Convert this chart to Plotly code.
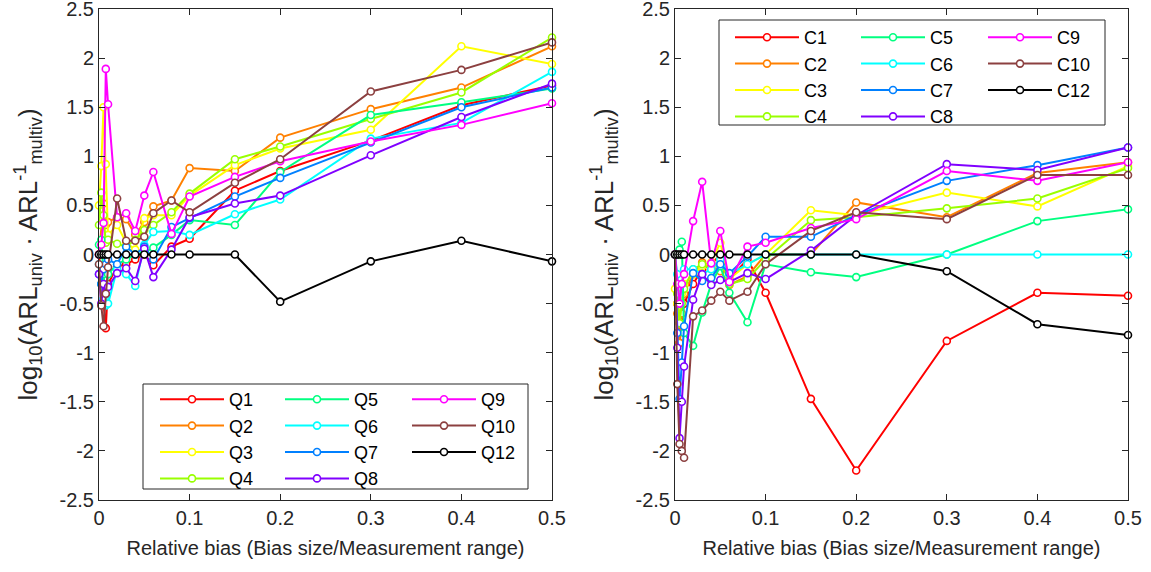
import plotly.graph_objects as go

W, H = 1151, 572
FONT = "Liberation Sans, Arial, Helvetica, sans-serif"
DARK = "#262626"

# ---------------- data ----------------
x_bias = [0, 0.0025, 0.005, 0.0075, 0.01, 0.02, 0.03, 0.04, 0.05, 0.06,
          0.08, 0.1, 0.15, 0.2, 0.3, 0.4, 0.5]

q_names = ["Q1", "Q2", "Q3", "Q4", "Q5", "Q6", "Q7", "Q8", "Q9", "Q10", "Q12"]
q1 = [0, -0.3, -0.5, -0.75, -0.3, -0.12, -0.1, -0.05, 0.0, -0.11, 0.08, 0.16, 0.65, 0.85, 1.16, 1.52, 1.72]
q2 = [0, 0.3, 0.52, 0.3, 0.33, 0.38, 0.36, 0.2, 0.33, 0.49, 0.55, 0.88, 0.85, 1.19, 1.48, 1.70, 2.12]
q3 = [0.5, 0.9, 1.5, 0.92, 0.2, 0.3, 0.12, 0.05, 0.37, 0.40, 0.40, 0.60, 0.91, 1.08, 1.27, 2.12, 1.94]
q4 = [0.3, 0.63, 0.4, 0.12, 0.15, 0.11, 0.08, 0.15, 0.25, 0.3, 0.43, 0.62, 0.97, 1.10, 1.38, 1.65, 2.21]
q5 = [0.1, 0.15, -0.2, -0.45, -0.2, -0.1, -0.05, 0.0, 0.02, 0.07, 0.2, 0.35, 0.30, 0.84, 1.42, 1.55, 1.69]
q6 = [-0.1, -0.3, -0.45, -0.52, -0.5, -0.15, -0.2, -0.32, 0.1, 0.23, 0.24, 0.20, 0.41, 0.56, 1.18, 1.34, 1.86]
q7 = [-0.2, -0.3, -0.15, -0.1, -0.05, -0.1, 0.08, 0.0, 0.08, -0.05, 0.28, 0.37, 0.59, 0.78, 1.14, 1.50, 1.70]
q8 = [-0.2, -0.5, -0.3, -0.4, -0.33, -0.19, -0.14, -0.27, 0.06, -0.23, 0.05, 0.38, 0.52, 0.60, 1.01, 1.40, 1.74]
q9 = [0, 0.1, 0.32, 1.89, 1.53, 0.38, 0.42, 0.24, 0.60, 0.84, 0.21, 0.59, 0.79, 0.95, 1.15, 1.32, 1.54]
q10 = [-0.1, -0.52, -0.73, -0.4, -0.13, 0.57, 0.14, 0.14, 0.18, 0.42, 0.55, 0.43, 0.73, 0.97, 1.66, 1.88, 2.16]
q12 = [0, 0, 0, 0, 0, 0, 0, 0, 0, 0, 0, 0, 0, -0.48, -0.07, 0.14, -0.07]

c_names = ["C1", "C2", "C3", "C4", "C5", "C6", "C7", "C8", "C9", "C10", "C12"]
c1 = [0, -0.5, -0.9, -0.7, -0.5, -0.3, -0.15, -0.1, 0.0, -0.25, -0.05, -0.39, -1.47, -2.2, -0.88, -0.39, -0.42]
c2 = [0, -0.6, -0.9, -0.6, -0.4, -0.2, -0.08, -0.12, -0.17, -0.31, -0.22, 0.0, 0.0, 0.53, 0.38, 0.83, 0.94]
c3 = [-0.35, -0.5, -0.7, -0.4, -0.3, -0.2, -0.12, -0.08, 0.12, -0.25, -0.1, 0.0, 0.45, 0.40, 0.63, 0.49, 0.90]
c4 = [0, -0.4, -0.7, -0.5, -0.35, -0.15, -0.1, -0.15, -0.05, -0.3, -0.25, -0.05, 0.35, 0.38, 0.47, 0.57, 0.88]
c5 = [0, 0.0, 0.05, 0.13, -0.8, -0.93, -0.59, -0.3, -0.12, -0.39, -0.69, -0.1, -0.18, -0.23, 0.0, 0.34, 0.46]
c6 = [0, -0.2, -0.5, -0.3, -0.15, -0.15, -0.2, -0.15, -0.05, -0.2, -0.1, 0, 0, 0, 0, 0, 0]
c7 = [0, -0.8, -1.47, -1.1, -0.73, -0.19, -0.27, -0.24, -0.10, -0.19, -0.02, 0.18, 0.18, 0.40, 0.75, 0.91, 1.09]
c8 = [0, -0.95, -1.87, -1.5, -1.14, -0.46, -0.20, -0.31, -0.26, -0.28, -0.19, -0.25, 0.04, 0.40, 0.92, 0.86, 1.09]
c9 = [0, -0.3, -0.5, -0.3, -0.2, 0.34, 0.74, -0.09, 0.24, -0.28, 0.08, 0.12, 0.27, 0.36, 0.85, 0.75, 0.94]
c10 = [0, -1.32, -1.93, -2.0, -2.07, -0.63, -0.57, -0.47, -0.38, -0.47, -0.38, -0.10, 0.24, 0.43, 0.36, 0.81, 0.81]
c12 = [0, 0, 0, 0, 0, 0, 0, 0, 0, 0, 0, 0, 0, 0, -0.17, -0.71, -0.82]

colors = ["#FF0000", "#FF8000", "#FFFF00", "#99FF00", "#00FF80", "#00FFFF",
          "#0080FF", "#8000FF", "#FF00FF", "#8C4040", "#000000"]

x_ticks = [0, 0.1, 0.2, 0.3, 0.4, 0.5]
x_ticktext = ["0", "0.1", "0.2", "0.3", "0.4", "0.5"]
y_ticks = [-2.5, -2, -1.5, -1, -0.5, 0, 0.5, 1, 1.5, 2, 2.5]
y_ticktext = ["-2.5", "-2", "-1.5", "-1", "-0.5", "0", "0.5", "1", "1.5", "2", "2.5"]

q_series = [q1, q2, q3, q4, q5, q6, q7, q8, q9, q10, q12]
c_series = [c1, c2, c3, c4, c5, c6, c7, c8, c9, c10, c12]

# ---------------- figure ----------------
fig = go.Figure()

def legend_for(i, offset):
    # one vertical legend per legend column: Q1-Q4, Q5-Q8, Q9-Q12
    col = 0 if i < 4 else (1 if i < 8 else 2)
    n = col + offset
    return "legend" if n == 0 else "legend%d" % (n + 1)

def add_panel(names, series, xa, ya, offset):
    for i, (name, vals) in enumerate(zip(names, series)):
        fig.add_trace(go.Scatter(
            x=x_bias, y=vals, name=name, mode="lines+markers",
            line=dict(color=colors[i], width=2),
            marker=dict(symbol="circle", size=7, color="white",
                        line=dict(color=colors[i], width=1.6)),
            xaxis=xa, yaxis=ya, cliponaxis=False,
            legend=legend_for(i, offset)))

add_panel(q_names, q_series, "x", "y", 0)
add_panel(c_names, c_series, "x2", "y2", 3)

y_title = "log<sub>10</sub>(ARL<sub>univ</sub> · ARL<sup>-1</sup><sub>multiv</sub>)"
x_title = "Relative bias (Bias size/Measurement range)"

def xaxis(domain, anchor):
    return dict(domain=domain, anchor=anchor, range=[0, 0.5],
                tickmode="array", tickvals=x_ticks, ticktext=x_ticktext,
                showline=True, linecolor=DARK, linewidth=1, mirror="ticks",
                ticks="inside", ticklen=6, tickcolor=DARK,
                tickfont=dict(family=FONT, size=20, color=DARK),
                showgrid=False, zeroline=False, automargin=False,
                title=dict(text=x_title, font=dict(family=FONT, size=20, color=DARK), standoff=12))

def yaxis(anchor):
    return dict(domain=[1 - 500 / H, 1 - 9 / H], anchor=anchor, range=[-2.5, 2.5],
                tickmode="array", tickvals=y_ticks, ticktext=y_ticktext,
                showline=True, linecolor=DARK, linewidth=1, mirror="ticks",
                ticks="inside", ticklen=6, tickcolor=DARK, ticklabeloverflow="allow",
                tickfont=dict(family=FONT, size=20, color=DARK),
                showgrid=False, zeroline=False, automargin=False,
                title=dict(text=y_title, font=dict(family=FONT, size=26, color=DARK), standoff=14))

def leg(x_px, y_px):
    return dict(x=x_px / W, y=1 - y_px / H, xanchor="left", yanchor="top",
                xref="paper", yref="paper",
                bgcolor="rgba(0,0,0,0)", borderwidth=0, orientation="v",
                font=dict(family=FONT, size=18, color="#000000"),
                itemwidth=64, tracegroupgap=0)

fig.update_layout(
    width=W, height=H,
    margin=dict(l=0, r=0, t=0, b=0),
    paper_bgcolor="white", plot_bgcolor="white",
    xaxis=xaxis([99 / W, 552 / W], "y"),
    yaxis=yaxis("x"),
    xaxis2=xaxis([675 / W, 1128 / W], "y2"),
    yaxis2=yaxis("x2"),
    legend=leg(155, 381), legend2=leg(280, 381), legend3=leg(407, 381),
    legend4=leg(730, 19), legend5=leg(856, 19), legend6=leg(983, 19),
    shapes=[
        dict(type="rect", xref="paper", yref="paper",
             x0=143 / W, x1=528 / W, y0=1 - 489 / H, y1=1 - 384 / H,
             line=dict(color=DARK, width=1), fillcolor="rgba(0,0,0,0)"),
        dict(type="rect", xref="paper", yref="paper",
             x0=719 / W, x1=1105 / W, y0=1 - 125 / H, y1=1 - 20 / H,
             line=dict(color=DARK, width=1), fillcolor="rgba(0,0,0,0)"),
    ],
)

fig.write_html("out.html")
